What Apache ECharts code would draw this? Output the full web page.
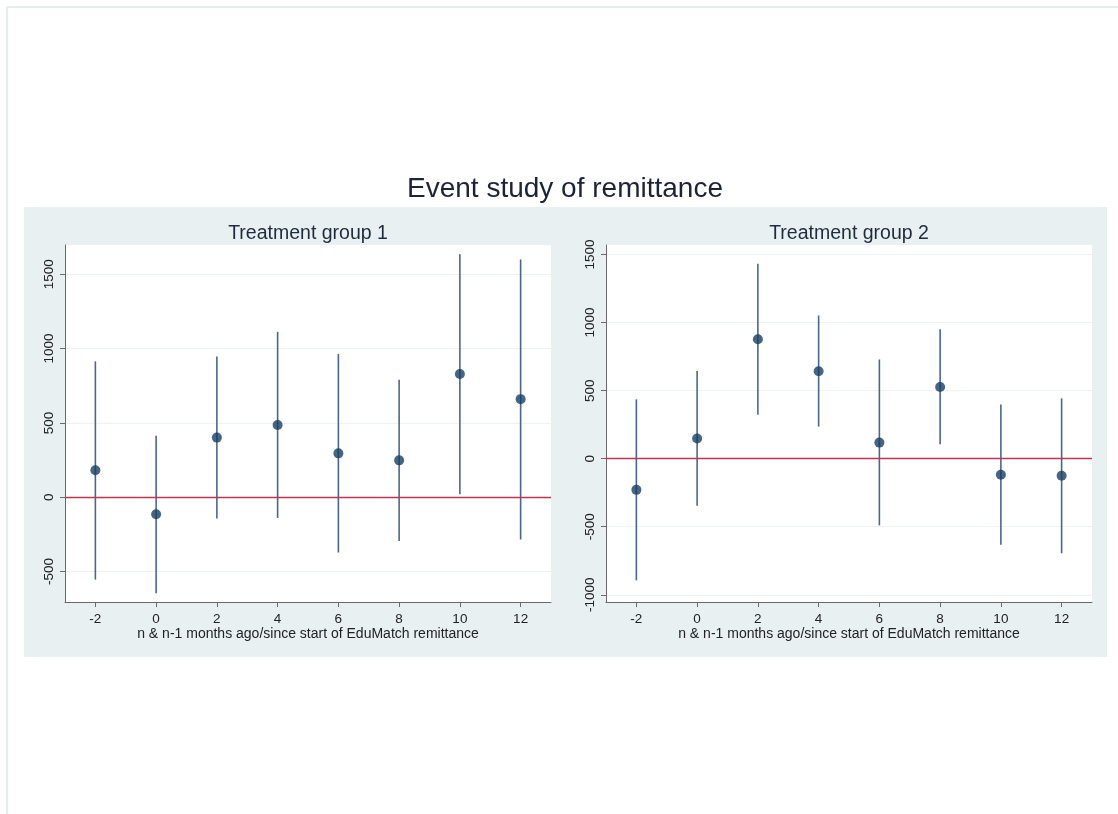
<!DOCTYPE html>
<html>
<head>
<meta charset="utf-8">
<script src="https://cdn.jsdelivr.net/npm/echarts@6/dist/echarts.min.js"></script>
<style>
  html, body { margin: 0; padding: 0; background: #ffffff; }
  #chart { width: 1118px; height: 814px; }
</style>
</head>
<body>
<div id="chart"></div>
<script>
// ---- Data ----
const months = [-2, 0, 2, 4, 6, 8, 10, 12];
const xTicks = [-2, 0, 2, 4, 6, 8, 10, 12];

const g1Coef = [182, -115, 401, 486, 295, 248, 829, 660];
const g1Lo   = [-554, -646, -144, -140, -372, -295, 20, -284];
const g1Hi   = [914, 414, 946, 1113, 964, 791, 1635, 1599];

const g2Coef = [-229, 148, 877, 643, 118, 527, -118, -126];
const g2Lo   = [-894, -345, 323, 236, -490, 106, -633, -695];
const g2Hi   = [436, 645, 1433, 1052, 729, 951, 399, 443];

const yTicks1 = [-500, 0, 500, 1000, 1500];
const yTicks2 = [-1000, -500, 0, 500, 1000, 1500];

const mainTitle = 'Event study of remittance';
const panelTitles = ['Treatment group 1', 'Treatment group 2'];
const xName = 'n & n-1 months ago/since start of EduMatch remittance';

// ---- Styles ----
const FONT = "'Liberation Sans', Arial, sans-serif";
const markerColor = '#173f63';
const spikeColor = '#4a678a';
const axisColor = '#6a6a6a';
const textColor = '#222222';
const plain = function (v) { return String(v); };

function xAxisCfg(gridIndex) {
  return {
    type: 'value', gridIndex: gridIndex, min: -3, max: 13,
    name: xName, nameLocation: 'middle', nameGap: 25,
    nameTextStyle: { fontFamily: FONT, fontSize: 14, color: textColor },
    axisLine: { show: true, onZero: false, lineStyle: { color: axisColor, width: 1 } },
    axisTick: { show: true, length: 5, customValues: xTicks, lineStyle: { color: axisColor } },
    axisLabel: { customValues: xTicks, formatter: plain, margin: 10, fontFamily: FONT, fontSize: 13.5, color: textColor },
    splitLine: { show: false }
  };
}
function yAxisCfg(gridIndex, min, max, ticks) {
  return {
    type: 'value', gridIndex: gridIndex, min: min, max: max,
    axisLine: { show: true, onZero: false, lineStyle: { color: axisColor, width: 1 } },
    axisTick: { show: true, length: 5, customValues: ticks, lineStyle: { color: axisColor } },
    axisLabel: { customValues: ticks, formatter: plain, rotate: 90, margin: 9, fontFamily: FONT, fontSize: 13.5, color: textColor },
    splitLine: { show: true, lineStyle: { color: '#edf2f3', width: 1 } }
  };
}

function spikeSeries(idx, lo, hi) {
  return {
    type: 'custom', xAxisIndex: idx, yAxisIndex: idx, z: 3,
    data: months.map((m, i) => [m, lo[i], hi[i]]),
    renderItem: function (params, api) {
      const p1 = api.coord([api.value(0), api.value(1)]);
      const p2 = api.coord([api.value(0), api.value(2)]);
      return {
        type: 'line',
        shape: { x1: p1[0], y1: p1[1], x2: p2[0], y2: p2[1] },
        style: { stroke: spikeColor, lineWidth: 1.6 }
      };
    }
  };
}
function pointSeries(idx, coef) {
  return {
    type: 'scatter', xAxisIndex: idx, yAxisIndex: idx, z: 5,
    symbol: 'circle', symbolSize: 10,
    itemStyle: { color: markerColor },
    data: months.map((m, i) => [m, coef[i]]),
    markLine: {
      silent: true, symbol: 'none', animation: false,
      label: { show: false },
      lineStyle: { color: '#c0344f', width: 1.3, type: 'solid' },
      data: [{ yAxis: 0 }]
    }
  };
}

const chart = echarts.init(document.getElementById('chart'), null, { renderer: 'canvas' });
chart.setOption({
  animation: false,
  backgroundColor: '#ffffff',
  textStyle: { fontFamily: FONT },
  graphic: [
    { type: 'rect', z: -20, shape: { x: 7, y: 7, width: 1200, height: 900 },
      style: { fill: '#ffffff', stroke: '#e4eeec', lineWidth: 2 } },
    { type: 'rect', z: -10, shape: { x: 24, y: 207, width: 1083, height: 450 },
      style: { fill: '#e8f0f2' } },
    { type: 'text', z: 10, x: 565, y: 189,
      style: { text: mainTitle, font: '28px ' + FONT, fill: '#1c2238', textAlign: 'center', textVerticalAlign: 'middle' } },
    { type: 'text', z: 10, x: 308, y: 234,
      style: { text: panelTitles[0], font: '19.5px ' + FONT, fill: '#1e2b3c', textAlign: 'center', textVerticalAlign: 'middle' } },
    { type: 'text', z: 10, x: 849, y: 234,
      style: { text: panelTitles[1], font: '19.5px ' + FONT, fill: '#1e2b3c', textAlign: 'center', textVerticalAlign: 'middle' } }
  ],
  grid: [
    { left: 65, width: 486, top: 245, height: 357, show: true, backgroundColor: '#ffffff', borderWidth: 0, containLabel: false },
    { left: 606, width: 486, top: 245, height: 357, show: true, backgroundColor: '#ffffff', borderWidth: 0, containLabel: false }
  ],
  xAxis: [xAxisCfg(0), xAxisCfg(1)],
  yAxis: [yAxisCfg(0, -705, 1697, yTicks1), yAxisCfg(1, -1053, 1570, yTicks2)],
  series: [
    spikeSeries(0, g1Lo, g1Hi),
    pointSeries(0, g1Coef),
    spikeSeries(1, g2Lo, g2Hi),
    pointSeries(1, g2Coef)
  ]
});
</script>
</body>
</html>
